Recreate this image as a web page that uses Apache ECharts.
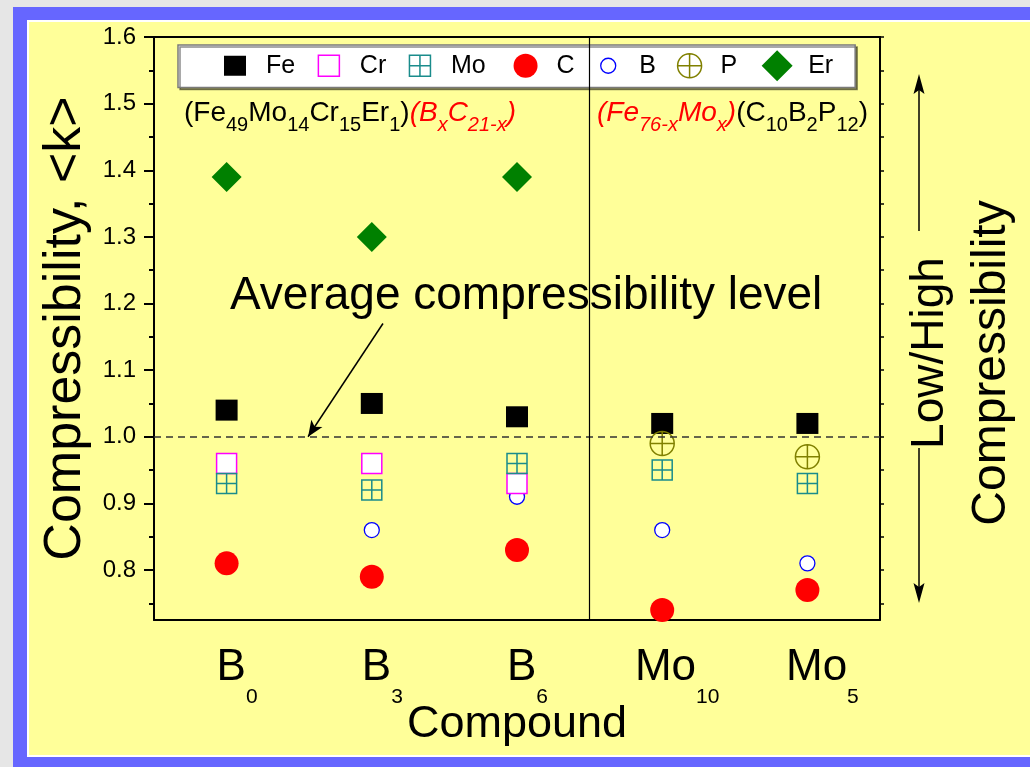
<!DOCTYPE html>
<html>
<head>
<meta charset="utf-8">
<title>Compressibility by compound</title>
<script src="https://cdn.jsdelivr.net/npm/echarts@6.0.0/dist/echarts.min.js"></script>
<style>
html, body { margin: 0; padding: 0; }
body { width: 1030px; height: 767px; position: relative; overflow: hidden; background: #e6e6e6; }
.frame { position: absolute; left: 13px; top: 7px; right: 0; bottom: 0; background: #6666ff; }
.panel { position: absolute; left: 27px; top: 20px; width: 1003px; height: 737px; box-sizing: border-box;
  background: #ffff99; border: 2px solid #fff; border-right: none; }
#chart { position: absolute; left: 0; top: 0; width: 1030px; height: 767px; }
</style>
</head>
<body>
<div class="frame"></div>
<div class="panel"></div>
<div id="chart"></div>
<script>
// data
var categories = ['B0', 'B3', 'B6', 'Mo10', 'Mo5'];
var feVals = [1.04, 1.05, 1.03, 1.02, 1.02];
var crVals = [0.96, 0.96, 0.93, null, null];
var moVals = [0.93, 0.92, 0.96, 0.95, 0.93];
var cVals = [0.81, 0.79, 0.83, 0.74, 0.77];
var bVals = [null, 0.86, 0.91, 0.86, 0.81];
var pVals = [null, null, null, 0.99, 0.97];
var erVals = [1.39, 1.30, 1.39, null, null];
var majorTicks = [0.8, 0.9, 1.0, 1.1, 1.2, 1.3, 1.4, 1.5, 1.6];
var minorTicks = [0.75, 0.85, 0.95, 1.05, 1.15, 1.25, 1.35, 1.45, 1.55];
var averageLevel = 1.0;

var FONT = "'Liberation Sans', Arial, Helvetica, sans-serif";

function pairs(vals) {
  var out = [];
  vals.forEach(function (v, i) {
    if (v != null) out.push([categories[i], v]);
  });
  return out;
}

// symbols
var moSymbol = 'path://M0,0H20V20H0ZM10,0V20M0,10H20';
var pSymbol = 'path://M24,12A12,12,0,1,1,0,12A12,12,0,1,1,24,12ZM12,0V24M0,12H24';

// trailing spaces after each legend name, to space the entries like the original
var legendPad = { Fe: 1, Cr: 1, Mo: 2, C: 1, B: 1, P: 2, Er: 0 };

var chart = echarts.init(document.getElementById('chart'));

chart.setOption({
  animation: false,
  textStyle: { fontFamily: FONT },
  grid: { left: 154, right: 150, top: 37, bottom: 147, outerBoundsMode: 'none' },
  legend: {
    left: 178,
    top: 45,
    padding: [4, 22, 5, 31],
    itemWidth: 52,
    itemHeight: 32,
    itemGap: 0,
    selectedMode: false,
    backgroundColor: '#fff',
    borderColor: '#7a7a7a',
    borderWidth: 1.5,
    shadowColor: 'rgba(0,0,0,0.45)',
    shadowOffsetX: 2,
    shadowOffsetY: 2,
    shadowBlur: 0,
    formatter: function (name) {
      return name + new Array(legendPad[name] + 1).join('\u00a0');
    },
    textStyle: { fontSize: 25, color: '#000', fontFamily: FONT },
    data: [
      { name: 'Fe', icon: 'path://M0,0M52,32M15,6H37V26H15Z',
        itemStyle: { color: '#000', borderWidth: 0 } },
      { name: 'Cr', icon: 'path://M0,0M52,32M15.5,5.5H36.5V26.5H15.5Z',
        itemStyle: { color: '#fff', borderColor: '#ff00ff', borderWidth: 1.5 } },
      { name: 'Mo', icon: 'path://M0,0M52,32M15.5,5.5H36.5V26.5H15.5ZM26,5.5V26.5M15.5,16H36.5',
        itemStyle: { color: 'rgba(0,0,0,0)', borderColor: '#1a8c8c', borderWidth: 1.5 } },
      { name: 'C', icon: 'path://M0,0M52,32M38,16A12,12,0,1,1,14,16A12,12,0,1,1,38,16Z',
        itemStyle: { color: '#ff0000', borderWidth: 0 } },
      { name: 'B', icon: 'path://M0,0M52,32M33.5,16A7.5,7.5,0,1,1,18.5,16A7.5,7.5,0,1,1,33.5,16Z',
        itemStyle: { color: '#fff', borderColor: '#0000ff', borderWidth: 1.3 } },
      { name: 'P', icon: 'path://M0,0M52,32M38,16A12,12,0,1,1,14,16A12,12,0,1,1,38,16ZM26,4V28M14,16H38',
        itemStyle: { color: 'rgba(0,0,0,0)', borderColor: '#808000', borderWidth: 1.5 } },
      { name: 'Er', icon: 'path://M0,0M52,32M26,0.5L41.5,16L26,31.5L10.5,16Z',
        itemStyle: { color: '#008000', borderWidth: 0 } }
    ]
  },
  xAxis: [
    {
      type: 'category',
      data: categories,
      position: 'bottom',
      boundaryGap: true,
      axisLine: { onZero: false, lineStyle: { color: '#000', width: 2 } },
      axisTick: { alignWithLabel: true, length: 11, lineStyle: { color: '#000', width: 2 } },
      axisLabel: {
        interval: 0,
        margin: 26,
        color: '#000',
        formatter: function (v) {
          var m = /^([A-Za-z]+)(\d+)$/.exec(v);
          var key = m[1].length > 1 ? 'mm' : 'mb';
          return '{' + key + '|' + m[1] + '}{s|' + m[2] + '}';
        },
        rich: {
          mb: { fontSize: 44, lineHeight: 44, verticalAlign: 'top', color: '#000', padding: [0, 0, 0, 21] },
          mm: { fontSize: 44, lineHeight: 44, verticalAlign: 'top', color: '#000', padding: [0, 0, 0, 30] },
          s: { fontSize: 21, lineHeight: 21, verticalAlign: 'top', color: '#000', padding: [41, 0, 0, 0] }
        }
      },
      splitLine: { show: false },
      name: 'Compound',
      nameLocation: 'middle',
      nameGap: 82,
      nameMoveOverlap: false,
      nameTextStyle: { fontSize: 45, lineHeight: 45, color: '#000', fontFamily: FONT }
    },
    {
      type: 'category', data: categories, position: 'bottom',
      axisLine: { show: false, onZero: false },
      axisTick: { inside: true, length: 4, lineStyle: { color: '#000', width: 1.5 } },
      axisLabel: { show: false }, splitLine: { show: false }
    },
    {
      type: 'category', data: categories, position: 'top',
      axisLine: { onZero: false, lineStyle: { color: '#000', width: 2 } },
      axisTick: { alignWithLabel: true, length: 7, lineStyle: { color: '#000', width: 1.5 } },
      axisLabel: { show: false }, splitLine: { show: false }
    },
    {
      type: 'category', data: categories, position: 'top',
      axisLine: { show: false, onZero: false },
      axisTick: { length: 7, lineStyle: { color: '#000', width: 1.5 } },
      axisLabel: { show: false }, splitLine: { show: false }
    },
    // hidden helper axis for the annotations (category index units)
    { type: 'value', min: -0.5, max: 4.5, show: false, axisLine: { onZero: false } }
  ],
  yAxis: [
    {
      type: 'value',
      min: 0.725,
      max: 1.6,
      position: 'left',
      axisLine: { show: true, onZero: false, lineStyle: { color: '#000', width: 2 } },
      axisTick: { show: true, customValues: majorTicks, length: 10, lineStyle: { color: '#000', width: 2 } },
      axisLabel: {
        customValues: majorTicks,
        margin: 18,
        fontSize: 24,
        color: '#000',
        formatter: function (v) { return v.toFixed(1); }
      },
      splitLine: { show: false },
      name: 'Compressibility, <k>',
      nameLocation: 'middle',
      nameGap: 62,
      nameMoveOverlap: false,
      nameTextStyle: { fontSize: 52, lineHeight: 52, color: '#000', fontFamily: FONT }
    },
    {
      type: 'value', min: 0.725, max: 1.6, position: 'left',
      axisLine: { show: false, onZero: false },
      axisTick: { show: true, customValues: minorTicks, length: 5, lineStyle: { color: '#000', width: 2 } },
      axisLabel: { show: false }, splitLine: { show: false }
    },
    {
      type: 'value', min: 0.725, max: 1.6, position: 'right',
      axisLine: { show: true, onZero: false, lineStyle: { color: '#000', width: 2 } },
      axisTick: { show: true, customValues: majorTicks.concat(minorTicks), length: 4, lineStyle: { color: '#000', width: 1.5 } },
      axisLabel: { show: false }, splitLine: { show: false }
    }
  ],
  series: [
    {
      name: 'guide',
      type: 'scatter',
      xAxisIndex: 4,
      yAxisIndex: 0,
      data: [],
      z: 1,
      silent: true,
      markLine: {
        silent: true,
        symbol: 'none',
        label: { show: false },
        lineStyle: { color: '#000', width: 1.5, type: 'solid' },
        data: [
          { yAxis: averageLevel, lineStyle: { type: [7, 5], color: '#333', width: 1.5 } },
          { xAxis: 2.5, lineStyle: { type: 'solid', color: '#000', width: 1.2 } },
          [
            { coord: [1.077, 1.17] },
            { coord: [0.561, 1.0], symbol: 'arrow', symbolSize: [10, 16] }
          ]
        ]
      }
    },
    {
      name: 'Fe', type: 'scatter', data: pairs(feVals),
      symbol: 'rect', symbolSize: [22, 21],
      itemStyle: { color: '#000', opacity: 1 }
    },
    {
      name: 'Cr', type: 'scatter', data: pairs(crVals),
      symbol: 'rect', symbolSize: 20,
      itemStyle: { color: '#fff', borderColor: '#ff00ff', borderWidth: 1.5, opacity: 1 }
    },
    {
      name: 'Mo', type: 'scatter', data: pairs(moVals),
      symbol: moSymbol, symbolSize: 20,
      itemStyle: { color: 'rgba(0,0,0,0)', borderColor: '#1a8c8c', borderWidth: 1.5, opacity: 1 }
    },
    {
      name: 'C', type: 'scatter', data: pairs(cVals),
      symbol: 'circle', symbolSize: 24,
      itemStyle: { color: '#ff0000', opacity: 1 }
    },
    {
      name: 'B', type: 'scatter', data: pairs(bVals), z: 1,
      symbol: 'circle', symbolSize: 15,
      itemStyle: { color: '#fff', borderColor: '#0000ff', borderWidth: 1.3, opacity: 1 }
    },
    {
      name: 'P', type: 'scatter', data: pairs(pVals),
      symbol: pSymbol, symbolSize: 24,
      itemStyle: { color: 'rgba(0,0,0,0)', borderColor: '#808000', borderWidth: 1.5, opacity: 1 }
    },
    {
      name: 'Er', type: 'scatter', data: pairs(erVals),
      symbol: 'diamond', symbolSize: 30,
      itemStyle: { color: '#008000', opacity: 1 }
    }
  ],
  graphic: [
    {
      type: 'text', x: 184, y: 99,
      style: {
        text: '{m|(Fe}{s|49}{m|Mo}{s|14}{m|Cr}{s|15}{m|Er}{s|1}{m|)}{rm|(B}{rs|x}{rm|C}{rs|21-x}{rm|)}',
        align: 'left', verticalAlign: 'top',
        rich: {
          m: { fontSize: 28, lineHeight: 28, fontFamily: FONT, fill: '#000', verticalAlign: 'top' },
          s: { fontSize: 20, lineHeight: 20, fontFamily: FONT, fill: '#000', verticalAlign: 'top', padding: [16, 0, 0, 0] },
          rm: { fontSize: 28, lineHeight: 28, fontFamily: FONT, fill: '#ff0000', fontStyle: 'italic', verticalAlign: 'top' },
          rs: { fontSize: 20, lineHeight: 20, fontFamily: FONT, fill: '#ff0000', fontStyle: 'italic', verticalAlign: 'top', padding: [16, 0, 0, 0] }
        }
      }
    },
    {
      type: 'text', x: 597, y: 99,
      style: {
        text: '{rm|(Fe}{rs|76-x}{rm|Mo}{rs|x}{rm|)}{m|(C}{s|10}{m|B}{s|2}{m|P}{s|12}{m|)}',
        align: 'left', verticalAlign: 'top',
        rich: {
          m: { fontSize: 28, lineHeight: 28, fontFamily: FONT, fill: '#000', verticalAlign: 'top' },
          s: { fontSize: 20, lineHeight: 20, fontFamily: FONT, fill: '#000', verticalAlign: 'top', padding: [16, 0, 0, 0] },
          rm: { fontSize: 28, lineHeight: 28, fontFamily: FONT, fill: '#ff0000', fontStyle: 'italic', verticalAlign: 'top' },
          rs: { fontSize: 20, lineHeight: 20, fontFamily: FONT, fill: '#ff0000', fontStyle: 'italic', verticalAlign: 'top', padding: [16, 0, 0, 0] }
        }
      }
    },
    {
      type: 'text', x: 230, y: 296,
      style: { text: 'Average compressibility level', fontSize: 46, fontFamily: FONT, fill: '#000', align: 'left', verticalAlign: 'middle' }
    },
    // Low/High compressibility arrow on the right
    { type: 'line', shape: { x1: 919, y1: 90, x2: 919, y2: 231 }, style: { stroke: '#000', lineWidth: 1.5 } },
    { type: 'line', shape: { x1: 919, y1: 448, x2: 919, y2: 588 }, style: { stroke: '#000', lineWidth: 1.5 } },
    { type: 'polygon', shape: { points: [[919, 74], [913.5, 94], [919, 90], [924.5, 94]] }, style: { fill: '#000' } },
    { type: 'polygon', shape: { points: [[919, 603], [913.5, 583], [919, 587], [924.5, 583]] }, style: { fill: '#000' } },
    {
      type: 'text', x: 930, y: 353, rotation: Math.PI / 2,
      style: { text: 'Low/High', fontSize: 46, fontFamily: FONT, fill: '#000', align: 'center', verticalAlign: 'middle' }
    },
    {
      type: 'text', x: 992, y: 363, rotation: Math.PI / 2,
      style: { text: 'Compressibility', fontSize: 48, fontFamily: FONT, fill: '#000', align: 'center', verticalAlign: 'middle' }
    }
  ]
});
</script>
</body>
</html>
